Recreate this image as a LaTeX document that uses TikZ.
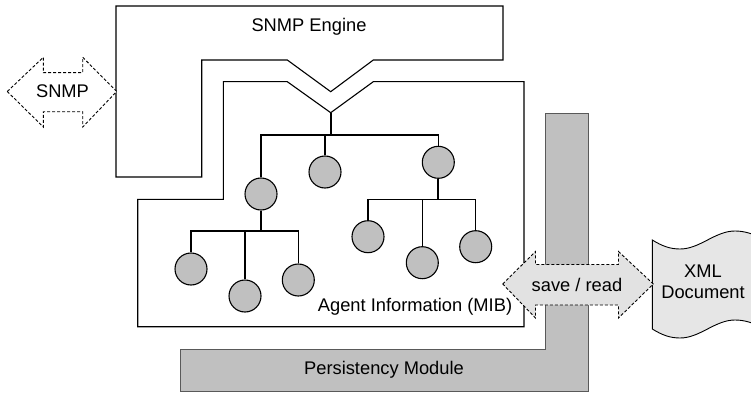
\documentclass[tikz,border=0pt]{standalone}
\usepackage{fontspec}
\setmainfont{Liberation Sans}
\usetikzlibrary{positioning}

\definecolor{mibgray}{HTML}{C0C0C0}
\definecolor{pipegray}{HTML}{E2E2E2}
\definecolor{docgray}{HTML}{E6E6E6}

\tikzset{
  mibnode/.style={circle, draw, fill=mibgray, line width=1.1pt, minimum size=32pt, inner sep=0pt},
  stem/.style={line width=2pt},
  flow/.style={draw, dash pattern=on 3pt off 2pt, line width=0.9pt},
  lbl/.style={inner sep=0pt, font=\fontsize{18.3}{21.5}\selectfont, align=center}
}

\begin{document}
\begin{tikzpicture}[x=1pt, y=-1pt, line width=1.1pt]
          \useasboundingbox (0,0) rectangle (751,393);

          % persistency module
          \draw[fill=mibgray, draw=black!65]
          (545.7,113.3)--(588.3,113.3)--(588.3,391.7)--(180.7,391.7)--(180.7,349.3)--(545.7,349.3)-- cycle;
          \node[lbl] (pers) at (384,370) {Persistency Module};

          % engine and agent
          \draw (116,6)--(503,6)--(503,60)--(373.3,60)--(330.7,91.7)--(287.3,60)--(201.7,60)--(201.7,177)--(116,177)-- cycle;
          \node[lbl] (engine) at (309,27) {SNMP Engine};

          \draw (223.3,81.7)--(287.3,81.7)--(330.7,112.7)--(373.3,81.7)--(524,81.7)--(524,326.7)--(137.7,326.7)--(137.7,199.3)--(223.3,199.3)-- cycle;
          \node[lbl] (agent) at (415,307) {Agent Information (MIB)};

          \coordinate (tip) at (330.7,112.7);
          \coordinate (bus) at (330.7,135);

          \node[mibnode] (a) at (261,194) {};
          \node[mibnode] (b) at (325,172) {};
          \node[mibnode] (c) at (438.3,162.3) {};
          \foreach \n/\x/\y in {a1/191/269, a2/245/296, a3/298.3/280, c1/368/236.7, c2/422.3/262.7, c3/475.7/246.7}{
            \node[mibnode] (\n) at (\x,\y) {};
          }

          \draw[stem] (tip)--(bus);
          \draw (a.north) |- (bus) -| (c.north);
          \draw (b.north)--(b |- bus);

          \draw[stem] (a.south)--(a |- 0,231);
          \draw (a1.north) |- (a |- 0,231) -| (a3.north);
          \draw (a2.north)--(a2 |- 0,231);

          \draw[stem] (c.south)--(c |- 0,199.3);
          \draw (c1.north) |- (c |- 0,199.3) -| (c3.north);
          \draw (c2.north)--(c2 |- 0,199.3);

          % SNMP arrow
          \draw[flow, fill=white]
          (7.3,91.5)--(43.3,57.3)--(43.3,72.7)--(82.7,72.7)--(82.7,57.3)--(116.7,91.5)
          --(82.7,127)--(82.7,111.7)--(43.3,111.7)--(43.3,127)-- cycle;
          \node[lbl] (snmp) at (62.5,91.5) {SNMP};

          % XML document
          \draw[fill=docgray, line width=0.9pt]
          (652.3,240) .. controls (662,246) and (670,249) .. (680,249)
          .. controls (700,249) and (715,231) .. (735,231)
          .. controls (745,231) and (752,234) .. (760,237)
          -- (760,326)
          .. controls (752,323) and (745,320) .. (735,320)
          .. controls (715,320) and (700,338) .. (680,338)
          .. controls (670,338) and (662,335) .. (652.3,329) -- cycle;
          \node[lbl] (xml) at (703,282) {XML\\[-1pt]Document};

          % save / read arrow
          \draw[flow, fill=pipegray]
          (502.7,284)--(535.5,251.5)--(535.5,264.5)--(618.5,264.5)--(618.5,251.5)--(653.3,284)
          --(618.5,318)--(618.5,305)--(535.5,305)--(535.5,318)-- cycle;
          \node[lbl] (save) at (577,285) {save / read};
\end{tikzpicture}
\end{document}
